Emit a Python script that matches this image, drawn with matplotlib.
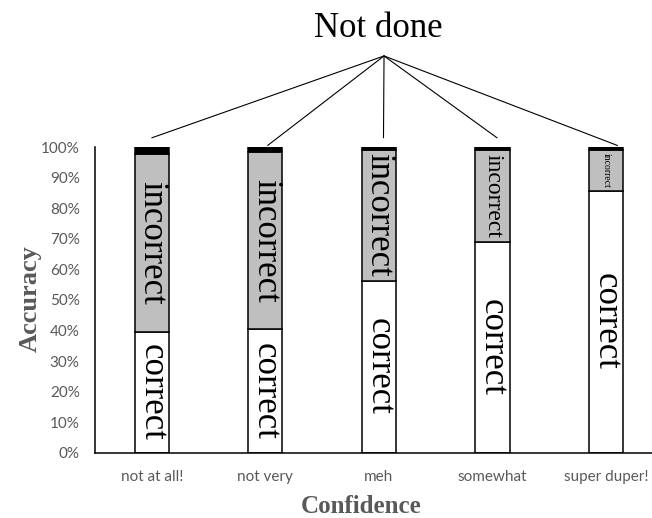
import numpy as np
import matplotlib
matplotlib.use("Agg")
import matplotlib.pyplot as plt

# =============================================================================
# DATOS
# =============================================================================
categorias = ["not at all!", "not very", "meh", "somewhat", "super duper!"]
correcto = [0.396, 0.404, 0.563, 0.690, 0.857]
no_hecho = [0.023, 0.016, 0.010, 0.010, 0.010]
incorrecto = [1.0 - c - n for c, n in zip(correcto, no_hecho)]
yticks = [0.0, 0.1, 0.2, 0.3, 0.4, 0.5, 0.6, 0.7, 0.8, 0.9, 1.0]
ytick_labels = ["0%", "10%", "20%", "30%", "40%", "50%", "60%", "70%", "80%", "90%", "100%"]

# tamaño de texto "incorrect" dentro de cada barra
tam_incorrect = [25, 25, 25, 17, 7]
tam_correct = 25

# puntos donde terminan las líneas de "Not done" (desplazamiento x, altura y)
fin_lineas = [(0.0, 1.03), (0.02, 1.005), (0.04, 1.03), (0.04, 1.03), (0.10, 1.005)]

GRIS_TXT = "#595959"

# =============================================================================
# FIGURA
# =============================================================================
fig = plt.figure(figsize=(6.52, 5.18), dpi=100)
ax = fig.add_axes([0.1457, 0.1255, 0.871, 0.5907])

x = np.arange(len(categorias))
ancho = 0.3
ax.bar(x, correcto, ancho, color="white", edgecolor="black", linewidth=1.1)
ax.bar(x, incorrecto, ancho, bottom=correcto, color="#BFBFBF",
       edgecolor="black", linewidth=1.1)
base_nd = [c + i for c, i in zip(correcto, incorrecto)]
ax.bar(x, no_hecho, ancho, bottom=base_nd, color="black",
       edgecolor="black", linewidth=1.1)

# etiquetas dentro de las barras
for i in range(len(categorias)):
    ax.text(x[i], correcto[i] / 2, "correct", rotation=-90,
            ha="center", va="center", fontsize=tam_correct,
            family="Liberation Serif", color="black")
    ax.text(x[i], correcto[i] + incorrecto[i] / 2, "incorrect", rotation=-90,
            ha="center", va="center", fontsize=tam_incorrect[i],
            family="Liberation Serif", color="black")

ax.set_xlim(-0.5, 4.5)
ax.set_ylim(0, 1.0)
ax.set_yticks(yticks)
ax.set_yticklabels(ytick_labels)
ax.set_xticks(x)
ax.set_xticklabels(categorias)
ax.tick_params(axis="y", length=0, pad=11, labelsize=11, labelcolor=GRIS_TXT)
ax.tick_params(axis="x", length=0, pad=12, labelsize=11, labelcolor=GRIS_TXT)
for lab in ax.get_xticklabels() + ax.get_yticklabels():
    lab.set_family("Lato")

for s in ["top", "right"]:
    ax.spines[s].set_visible(False)
ax.spines["left"].set_linewidth(1.1)
ax.spines["bottom"].set_linewidth(1.1)

# etiquetas de ejes
fig.text(0.046, 0.423, "Accuracy", rotation=90, ha="center", va="center",
         fontsize=19, fontweight="bold", family="Liberation Serif", color=GRIS_TXT)
fig.text(0.554, 0.022, "Confidence", ha="center", va="center",
         fontsize=18, fontweight="bold", family="Liberation Serif", color=GRIS_TXT)

# "Not done" con sus líneas
fig.text(0.58, 0.945, "Not done", ha="center", va="center",
         fontsize=25, family="Liberation Serif", color="black")
origen = (0.589, 0.892)
for i, (dx, yf) in enumerate(fin_lineas):
    ax.annotate("", xy=(x[i] + dx, yf), xycoords="data",
                xytext=origen, textcoords="figure fraction",
                annotation_clip=False,
                arrowprops=dict(arrowstyle="-", lw=0.8, color="black",
                                shrinkA=0, shrinkB=0))

fig.savefig("out.png", dpi=100)
